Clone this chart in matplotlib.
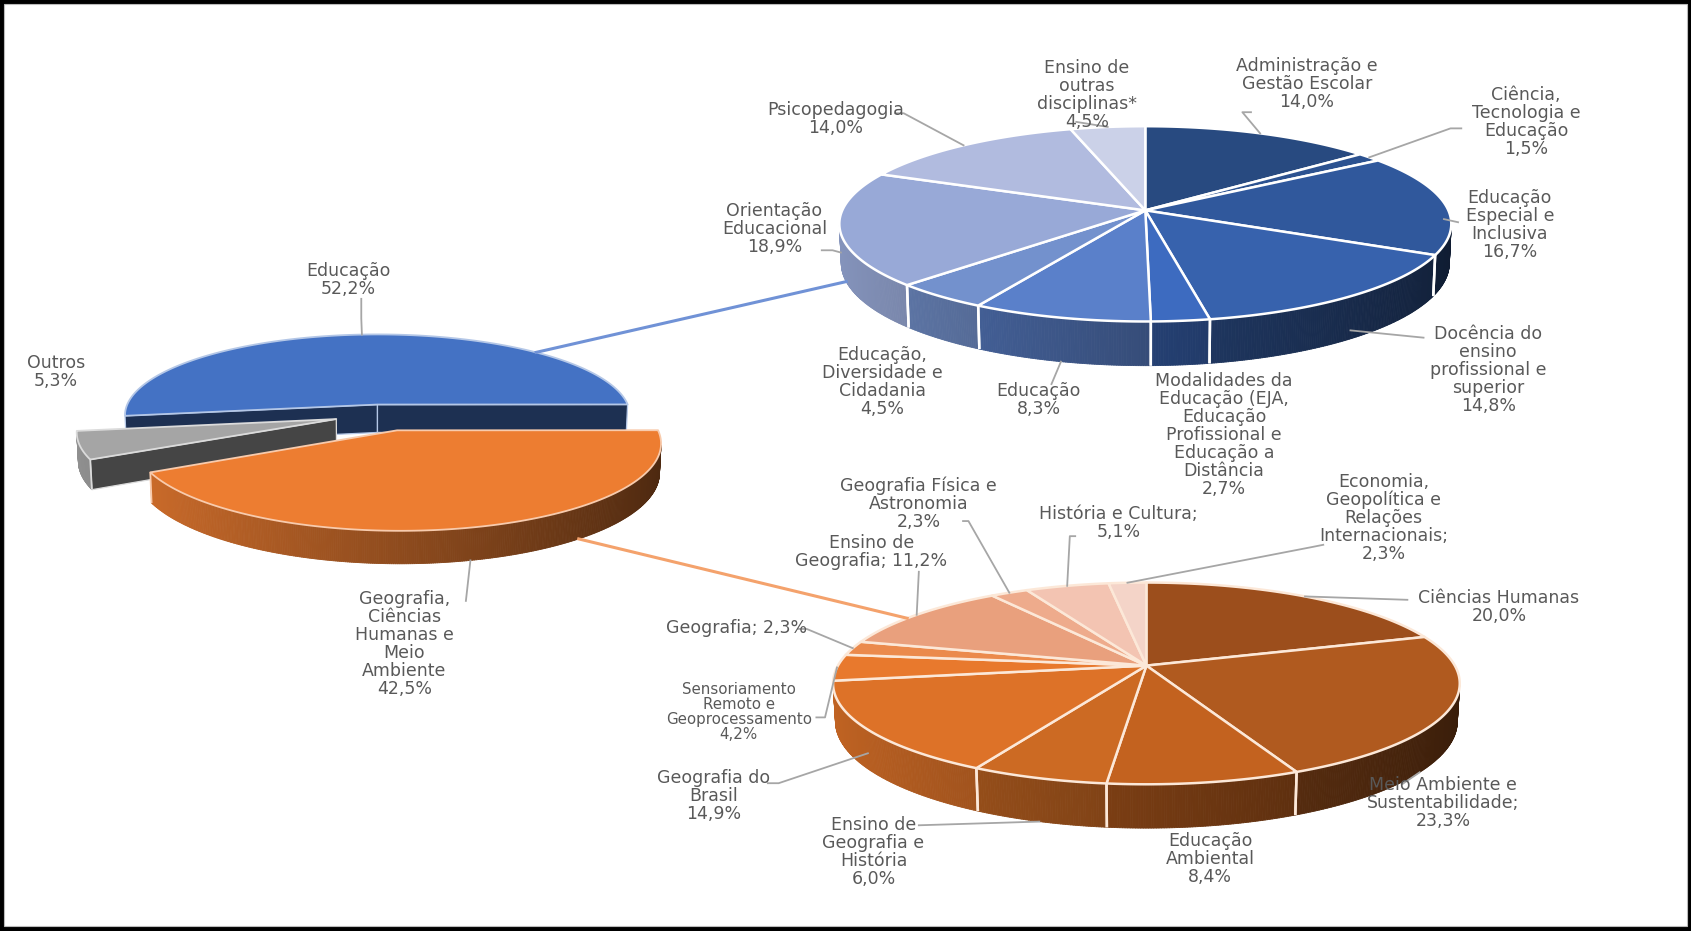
import numpy as np
import matplotlib
matplotlib.use("Agg")
import matplotlib.pyplot as plt
from matplotlib.collections import PolyCollection
from matplotlib.patches import Polygon, Rectangle
from matplotlib.colors import to_rgb

W, H = 1691, 931          # output pixels
VW, VH = 1568, 863        # layout units used for positions

# ---------------- data ----------------
main_names = ["Educação", "Geografia,\nCiências\nHumanas e\nMeio\nAmbiente", "Outros"]
main_values = [52.2, 42.5, 5.3]
main_colors = ["#4472C4", "#ED7D31", "#A5A5A5"]

edu_names = ["Administração e\nGestão Escolar", "Ciência,\nTecnologia e\nEducação",
             "Educação\nEspecial e\nInclusiva", "Docência do\nensino\nprofissional e\nsuperior",
             "Modalidades da\nEducação (EJA,\nEducação\nProfissional e\nEducação a\nDistância",
             "Educação", "Educação,\nDiversidade e\nCidadania", "Orientação\nEducacional",
             "Psicopedagogia", "Ensino de\noutras\ndisciplinas*"]
edu_values = [14.0, 1.5, 16.7, 14.8, 2.7, 8.3, 4.5, 18.9, 14.0, 4.5]
edu_colors = ["#284A80", "#2C5290", "#30589C", "#3762AD", "#3D6BC0", "#5A80CA",
              "#7391CD", "#98A9D7", "#B1BBDF", "#CBD1E8"]

geo_names = ["Ciências Humanas", "Meio Ambiente e\nSustentabilidade", "Educação\nAmbiental",
             "Ensino de\nGeografia e\nHistória", "Geografia do\nBrasil",
             "Sensoriamento\nRemoto e\nGeoprocessamento", "Geografia", "Ensino de\nGeografia",
             "Geografia Física e\nAstronomia", "História e Cultura",
             "Economia,\nGeopolítica e\nRelações\nInternacionais"]
geo_seps = ["\n", ";\n", "\n", "\n", "\n", "\n", "; ", "; ", "\n", ";\n", ";\n"]
geo_values = [20.0, 23.3, 8.4, 6.0, 14.9, 4.2, 2.3, 11.2, 2.3, 5.1, 2.3]
geo_colors = ["#9C4E1C", "#B05A1F", "#C3621F", "#CC6A23", "#DD7228", "#E8792D",
              "#EB8A4C", "#E9A07D", "#EEAB8C", "#F3C4B2", "#F4D4C8"]


def pct(v):
    return f"{v:.1f}".replace(".", ",") + "%"


def shade(color, f):
    r, g, b = to_rgb(color)
    return (r * f, g * f, b * f)


def blend(color, f):
    r, g, b = to_rgb(color)
    return (r + (1 - r) * f, g + (1 - g) * f, b + (1 - b) * f)


class Pie3D:
    def __init__(self, cx, cy, rx, ry_back, ry_front, depth, start):
        self.cx, self.cy, self.rx = cx, cy, rx
        k = (ry_front + ry_back) / (ry_front - ry_back)
        ssin = 2 * ry_back * ry_front / (ry_back + ry_front)
        self.sp = ssin / rx
        self.cp = np.sqrt(1 - self.sp ** 2)
        self.d = k * self.cp
        self.h = depth / (rx * self.cp * self.d / (self.d - self.cp))
        self.start = start

    def proj(self, X, Y, Z):
        D = self.d + Z * self.cp - Y * self.sp
        f = self.d / D
        return (self.cx + self.rx * X * f, self.cy - self.rx * (Z * self.sp + Y * self.cp) * f)

    def layout(self, values, explode, explode_dir=None):
        T = float(sum(values))
        cum = np.concatenate([[0.0], np.cumsum(values)])
        self.slices = []
        for i in range(len(values)):
            tb = self.start - 360.0 * cum[i] / T
            ta = self.start - 360.0 * cum[i + 1] / T
            dirdeg = (ta + tb) / 2
            if explode_dir is not None and explode_dir[i] is not None:
                dirdeg = explode_dir[i]
            m = np.radians(dirdeg)
            e = explode[i]
            self.slices.append(dict(ta=ta, tb=tb, mid=(ta + tb) / 2,
                                    ox=e * np.cos(m), oz=e * np.sin(m)))

    def rim(self, i, theta_deg=None, yfrac=0.0):
        s = self.slices[i]
        if theta_deg is None:
            theta_deg = s["mid"]
        t = np.radians(theta_deg)
        return self.proj(s["ox"] + np.cos(t), -yfrac * self.h, s["oz"] + np.sin(t))

    def wall_vis(self, s, t):
        return -self.d * self.cp * np.sin(t) - (s["ox"] * np.cos(t) + s["oz"] * np.sin(t) + 1)

    def draw(self, ax, colors, edges, lw, exploded=False, z0=2):
        idx = list(range(len(self.slices)))
        if exploded:
            idx.sort(key=lambda i: -(self.slices[i]["oz"] + 0.5 * np.sin(np.radians(self.slices[i]["mid"]))))
        for k, i in enumerate(idx):
            s = self.slices[i]
            c = colors[i]
            ec = edges[i] if isinstance(edges, (list, tuple)) else edges
            zs = z0 + 3 * k if exploded else z0
            zt = zs + 2 if exploded else z0 + 2
            ox, oz, h = s["ox"], s["oz"], self.h
            n = max(6, int(abs(s["tb"] - s["ta"]) / 0.4))
            th = np.radians(np.linspace(s["ta"], s["tb"], n + 1))
            polys, cols = [], []
            if exploded:
                tb = np.radians(s["tb"])
                ta = np.radians(s["ta"])
                vb = -self.d * self.cp * np.cos(tb) - (-np.sin(tb) * ox + np.cos(tb) * oz)
                va = self.d * self.cp * np.cos(ta) - (np.sin(ta) * ox - np.cos(ta) * oz)
                for t, v in ((tb, vb), (ta, va)):
                    if v > 0:
                        face = [self.proj(ox, 0, oz), self.proj(ox + np.cos(t), 0, oz + np.sin(t)),
                                self.proj(ox + np.cos(t), -h, oz + np.sin(t)), self.proj(ox, -h, oz)]
                        ax.add_patch(Polygon(face, closed=True, facecolor=shade(c, 0.42),
                                             edgecolor=ec, lw=lw * 0.7, zorder=zs))
            for t1, t2 in zip(th[:-1], th[1:]):
                tm = 0.5 * (t1 + t2)
                if self.wall_vis(s, tm) <= 0:
                    continue
                p1 = self.proj(ox + np.cos(t1), 0, oz + np.sin(t1))
                p2 = self.proj(ox + np.cos(t2), 0, oz + np.sin(t2))
                q2 = self.proj(ox + np.cos(t2), -h, oz + np.sin(t2))
                q1 = self.proj(ox + np.cos(t1), -h, oz + np.sin(t1))
                polys.append([p1, p2, q2, q1])
                cols.append(shade(c, 0.6 - 0.28 * np.cos(tm)))
            if polys:
                ax.add_collection(PolyCollection(polys, facecolors=cols, edgecolors=cols,
                                                 linewidths=0.6, zorder=zs + 0.5))
            for t in (th[0], th[-1]):
                if self.wall_vis(s, t) > 0:
                    a = self.proj(ox + np.cos(t), 0, oz + np.sin(t))
                    b = self.proj(ox + np.cos(t), -h, oz + np.sin(t))
                    ax.plot([a[0], b[0]], [a[1], b[1]], color=ec, lw=lw, zorder=zs + 1,
                            solid_capstyle="butt")
            top = [self.proj(ox, 0, oz)] + [self.proj(ox + np.cos(t), 0, oz + np.sin(t)) for t in th]
            ax.add_patch(Polygon(top, closed=True, facecolor=c, edgecolor=ec, lw=lw,
                                 joinstyle="round", zorder=zt))


FS = 12.5
LS = 1.0


def labels(ax, pie, names, seps, values, pos, leaders, lyf, fs, lth=None, z=40):
    for i, (nm, sp, v) in enumerate(zip(names, seps, values)):
        x, y = pos[i]
        ax.text(x, y, nm + sp + pct(v), ha="center", va="center", fontsize=fs[i],
                color="#595959", linespacing=LS, zorder=z, family="DejaVu Sans")
        if leaders[i] is not None:
            th = None if lth is None else lth[i]
            pts = list(leaders[i]) + [pie.rim(i, theta_deg=th, yfrac=lyf[i])]
            xs, ys = zip(*pts)
            ax.plot(xs, ys, color="#A6A6A6", lw=1.3, zorder=z - 1)


fig = plt.figure(figsize=(W / 100, H / 100), dpi=100, facecolor="black")
ax = fig.add_axes([0, 0, 1, 1])
ax.set_xlim(0, VW)
ax.set_ylim(VH, 0)
ax.axis("off")
ax.add_patch(Rectangle((4 / W, 5 / H), (W - 8) / W, (H - 9) / H, transform=ax.transAxes,
                       facecolor="white", edgecolor="#BBBBBB", lw=0.8, zorder=0))

main = Pie3D(350, 375, 232, 65, 85, 30, start=188.0)
main.layout(main_values, [0.0, 0.32, 0.24], explode_dir=[None, None, -132])
main.draw(ax, main_colors, [blend(c, 0.6) for c in main_colors], 1.3, exploded=True, z0=2)

edu = Pie3D(1062, 195, 281, 78, 103, 42, start=90)
edu.layout(edu_values, [0] * len(edu_values))
edu.draw(ax, edu_colors, "white", 1.8, z0=20)

geo = Pie3D(1063, 617, 286, 77, 110, 42, start=90)
geo.layout(geo_values, [0] * len(geo_values))
geo.draw(ax, geo_colors, "#FCE8D8", 1.8, z0=20)

a = main.rim(0, 46, 0)
b = edu.rim(7, 198, 1.0)
ax.plot([a[0], b[0]], [a[1], b[1]], color="#7092D6", lw=2.2, zorder=30)
a = main.rim(1, -52, 1.0)
b = geo.rim(7, 148, 0)
ax.plot([a[0], b[0]], [a[1], b[1]], color="#F4A26C", lw=2.2, zorder=30)

labels(ax, main, main_names, ["\n"] * 3, main_values,
       [(323, 260), (375, 597), (52, 345)],
       [[(335, 277), (335, 295)], [(432, 557)], None], [0, 1.0, 0], [FS] * 3)

labels(ax, edu, edu_names, ["\n"] * 10, edu_values,
       [(1212, 78), (1415, 113), (1400, 209), (1380, 343), (1135, 403), (963, 371),
        (818, 354), (718, 212), (775, 110), (1008, 88)],
       [[(1160, 104), (1152, 104)], [(1355, 119), (1345, 119)], [(1352, 206)], [(1320, 313)],
        None, [(975, 356)], None, [(762, 232), (772, 232)], [(830, 105), (838, 105)], [(998, 113)]],
       [0, 0, 0.4, 0.8, 0, 1.0, 0, 0.6, 0, 0], [FS] * 10)

geo_fs = [FS] * 11
geo_fs[5] = 10.8
geo_lth = [None] * 11
geo_lth[1] = -37
labels(ax, geo, geo_names, geo_seps, geo_values,
       [(1390, 563), (1338, 744), (1122, 796), (810, 790), (662, 738), (685, 660),
        (683, 582), (808, 512), (852, 467), (1037, 485), (1283, 480)],
       [[(1305, 556)], [(1300, 727)], None, [(852, 765)], [(712, 726), (722, 726)],
        [(757, 665), (765, 665)], [(740, 583), (748, 583)], [(852, 530)],
        [(893, 483), (898, 483)], [(997, 497), (992, 497)], [(1227, 505), (1217, 507)]],
       [0, 1.0, 0, 1.0, 0.6, 0, 0, 0, 0, 0, 0], geo_fs, lth=geo_lth)

fig.savefig("out.png", dpi=100, facecolor=fig.get_facecolor())
